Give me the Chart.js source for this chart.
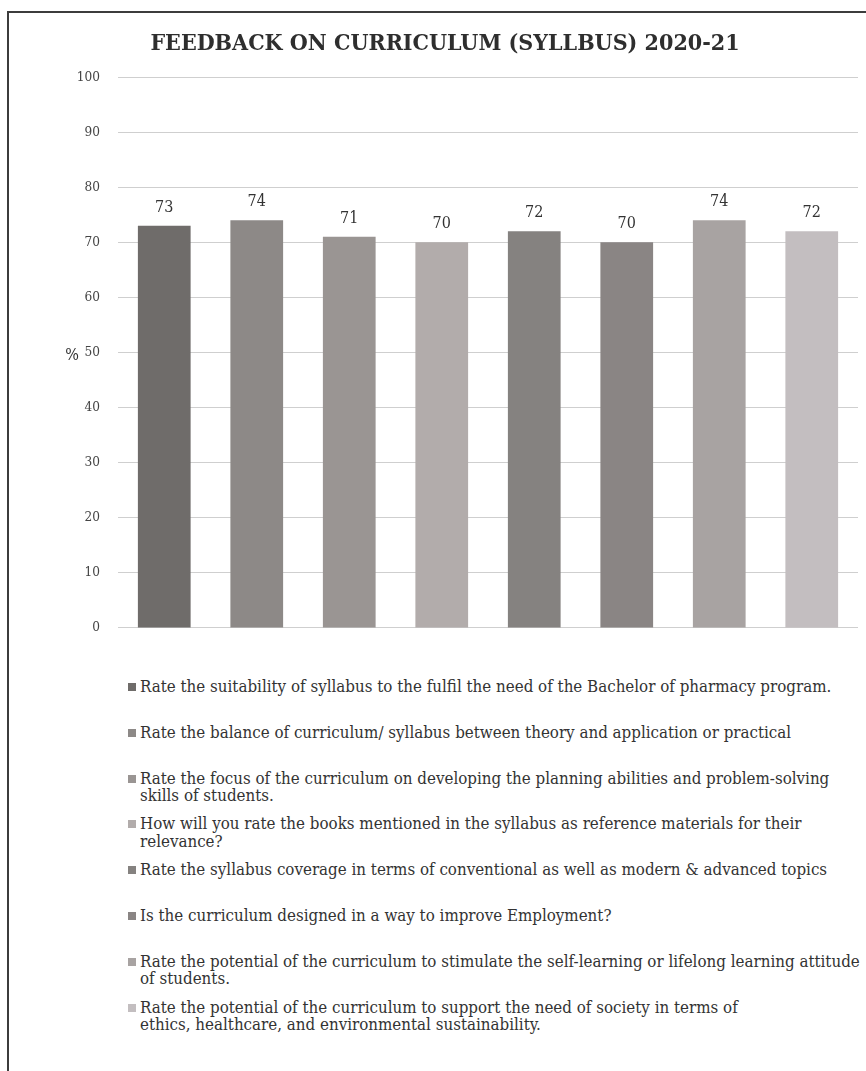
<!DOCTYPE html>
<html>
<head>
<meta charset="utf-8">
<script src="https://cdn.jsdelivr.net/npm/chart.js@4/dist/chart.umd.min.js"></script>
<style>
    html, body { margin: 0; padding: 0; background: #fff; }
    body { width: 866px; height: 1071px; position: relative; overflow: hidden; }
    .frame {
        position: absolute; left: 7px; top: 11px; width: 900px; height: 1100px;
        border: 2px solid #3c3c3c; box-sizing: border-box;
    }
    .chart-box { position: absolute; left: 10px; top: 14px; width: 856px; height: 640px; }
    .legend {
        position: absolute; left: 128px; top: 678px;
        font-family: "DejaVu Serif Condensed", "DejaVu Serif", serif;
        font-stretch: condensed; font-size: 16.8px; line-height: 17.5px; color: #333;
    }
    .legend-item { position: relative; height: 45.8px; padding-left: 12px; white-space: nowrap; }
    .legend-item .swatch {
        position: absolute; left: 0; top: 5px; width: 8px; height: 8px;
    }
</style>
</head>
<body>
<div class="frame"></div>
<div class="chart-box"><canvas id="feedbackChart"></canvas></div>
<div class="legend" id="legend"></div>

<script>
// Questions du questionnaire (une barre par question, coupures de ligne de l'original)
const categories = [
    ["Rate the suitability of syllabus to the fulfil the need of the Bachelor of pharmacy program."],
    ["Rate the balance of curriculum/ syllabus between theory and application or practical"],
    ["Rate the focus of the curriculum on developing the planning abilities and problem-solving", "skills of students."],
    ["How will you rate the books mentioned in the syllabus as reference materials for their", "relevance?"],
    ["Rate the syllabus coverage in terms of conventional as well as modern & advanced topics"],
    ["Is the curriculum designed in a way to improve Employment?"],
    ["Rate the potential of the curriculum to stimulate the self-learning or lifelong learning attitude", "of students."],
    ["Rate the potential of the curriculum to support the need of society in terms of", "ethics, healthcare, and environmental sustainability."],
];

const percentages = [73, 74, 71, 70, 72, 70, 74, 72];

const barColors = ["#6f6c6a", "#8d8987", "#9a9593", "#b2acab", "#858280", "#8a8584", "#a8a3a2", "#c3bec0"];

const yTicks = [0, 10, 20, 30, 40, 50, 60, 70, 80, 90, 100];

const SERIF = "'DejaVu Serif Condensed', 'DejaVu Serif', serif";

/** Étiquettes de valeur au-dessus des barres + "%" horizontal à gauche */
const annotations = {
    id: "annotations",
    afterDatasetsDraw(chart) {
        const ctx = chart.ctx;
        const meta = chart.getDatasetMeta(0);
        ctx.save();
        ctx.font = "16px " + SERIF;
        ctx.fillStyle = "#333";
        ctx.textAlign = "center";
        ctx.textBaseline = "bottom";
        meta.data.forEach((bar, i) => {
            ctx.fillText(String(percentages[i]), bar.x, bar.y - 10);
        });

        const y = chart.scales.y;
        ctx.font = "16px " + SERIF;
        ctx.textBaseline = "middle";
        ctx.fillText("%", 62, (y.top + y.bottom) / 2 + 3);
        ctx.restore();
    },
};

new Chart(document.getElementById("feedbackChart"), {
    type: "bar",
    data: {
        labels: categories,
        datasets: [
            {
                data: percentages,
                backgroundColor: barColors,
                borderWidth: 0,
                categoryPercentage: 1,
                barPercentage: 0.57,
            },
        ],
    },
    options: {
        responsive: true,
        maintainAspectRatio: false,
        animation: false,
        layout: { padding: { top: 0, left: 22, right: 8, bottom: 23 } },
        plugins: {
            legend: { display: false },
            tooltip: { enabled: false },
            title: {
                display: true,
                text: "FEEDBACK ON CURRICULUM (SYLLBUS) 2020-21",
                color: "#2e2e2e",
                font: { family: SERIF, size: 23, weight: "bold", lineHeight: 1.2 },
                padding: { top: 16.2, bottom: 19.2 },
            },
        },
        scales: {
            x: { display: false },
            y: {
                min: 0,
                max: 100,
                afterFit: (scale) => { scale.width = 86; },
                afterBuildTicks: (scale) => {
                    scale.ticks = yTicks.map((v) => ({ value: v }));
                },
                border: { display: false },
                grid: { color: "#cfcfcf", lineWidth: 1, drawTicks: false },
                ticks: {
                    padding: 18,
                    color: "#444",
                    font: { family: SERIF, size: 13.5 },
                },
            },
        },
    },
    plugins: [annotations],
});

// Légende HTML : les libellés sont longs et sur deux lignes, comme dans l'original
const legend = document.getElementById("legend");
categories.forEach((lines, i) => {
    const item = document.createElement("div");
    item.className = "legend-item";
    const swatch = document.createElement("span");
    swatch.className = "swatch";
    swatch.style.background = barColors[i];
    item.appendChild(swatch);
    lines.forEach((line, j) => {
        if (j > 0) item.appendChild(document.createElement("br"));
        item.appendChild(document.createTextNode(line));
    });
    legend.appendChild(item);
});
</script>
</body>
</html>
